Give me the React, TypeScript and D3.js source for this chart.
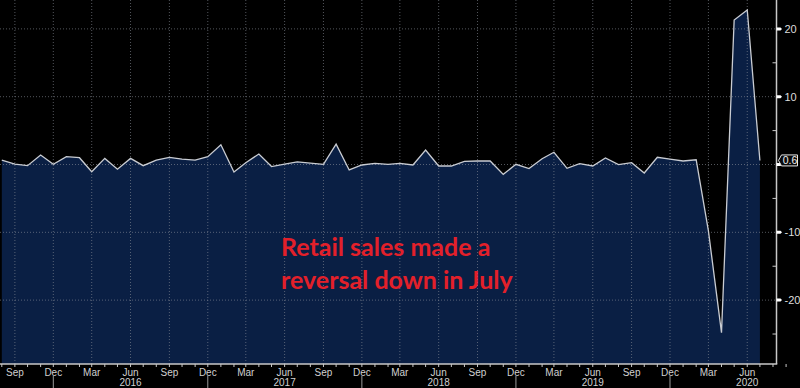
import React from "react";
import * as d3 from "d3";

// monthly % change, Aug 2015 .. Jul 2020
const startMonth = new Date(2015, 7, 1);
const values = [
  0.66, 0.07, -0.17, 1.4, 0.03,
  1.15, 1.0, -1.06, 0.9, -0.7, 0.9, -0.17, 0.66, 1.06, 0.8, 0.66, 1.15,
  2.9, -1.1, 0.27, 1.55, -0.3, 0.07, 0.4, 0.2, 0.03, 3.0, -0.8, -0.07,
  0.17, 0.03, 0.17, -0.07, 2.14, -0.22, -0.22, 0.47, 0.52, 0.52, -1.45, 0.03,
  -0.6, 0.86, 1.8, -0.56, 0.12, -0.22, 0.96, -0.02, 0.27, -1.25, 1.06, 0.8,
  0.52, 0.7, -9.8, -24.8, 21.3, 22.8, 0.6,
];
const yTicks = [20, 10, 0, -10, -20];
const yMinorTicks = [15, 5, -5, -15, -25];
const years = [2016, 2017, 2018, 2019, 2020];
const lastLabel = "0.6";
const annotation = ["Retail sales made a", "reversal down in July"];

const W = 800;
const H = 388;
const plotBottom = 364;
const axisX = 776.5;

export default function App() {
  const data = values.map((v, i) => ({ date: d3.timeMonth.offset(startMonth, i), v }));

  const x = d3
    .scaleTime()
    .domain([new Date(2015, 11, 1), new Date(2019, 11, 1)])
    .range([53.3, 670]);
  const y = d3.scaleLinear().domain([-29.42, 24.26]).range([plotBottom, 0]);

  const line = d3
    .line<{ date: Date; v: number }>()
    .x((d) => x(d.date))
    .y((d) => y(d.v));
  const area = d3
    .area<{ date: Date; v: number }>()
    .x((d) => x(d.date))
    .y0(plotBottom)
    .y1((d) => y(d.v));

  const allMonths = d3.timeMonth.range(startMonth, new Date(2020, 8, 2));
  const quarterMonths = allMonths.filter((d) => d.getMonth() % 3 === 2);
  const labelFor = (d: Date) => {
    const m = d.getMonth();
    return m === 11 ? "Dec" : m === 2 ? "Mar" : m === 5 ? "Jun" : "Sep";
  };
  const last = data[data.length - 1];

  return (
    <svg
      width={W}
      height={H}
      style={{ position: "absolute", left: 0, top: 0, background: "#000" }}
      fontFamily="Liberation Sans, Arial, sans-serif"
    >
      <rect width={W} height={H} fill="#000" />
      <path d={area(data) ?? ""} fill="#0a1f44" />

      {/* grid */}
      <g stroke="#8a8f99" strokeOpacity={0.6} strokeDasharray="1,2" strokeWidth={1}>
        {quarterMonths
          .filter((d) => x(d) < axisX - 2)
          .map((d, i) => (
            <line key={"vg" + i} x1={x(d)} x2={x(d)} y1={0} y2={plotBottom} />
          ))}
        {yTicks.map((t) => (
          <line key={"hg" + t} x1={0} x2={axisX} y1={y(t)} y2={y(t)} />
        ))}
      </g>

      <path d={line(data) ?? ""} fill="none" stroke="#c9ccd2" strokeWidth={1.3} />

      {/* right axis */}
      <line x1={axisX} x2={axisX} y1={0} y2={plotBottom} stroke="#c8c8c8" strokeWidth={1.5} />
      {yMinorTicks.map((t) => (
        <line key={"ym" + t} x1={axisX - 4} x2={axisX} y1={y(t)} y2={y(t)} stroke="#c8c8c8" />
      ))}
      {yTicks.map((t) => (
        <g key={"yt" + t}>
          <path
            d={`M${axisX},${y(t) - 1.5}L${axisX + 4},${y(t) - 1.5}L${axisX + 5.5},${y(t)}L${axisX + 4},${y(t) + 1.5}L${axisX},${y(t) + 1.5}Z`}
            fill="#fff"
          />
          {t !== 0 && (
            <text x={axisX + 8} y={y(t)} dy="0.35em" fontSize={11} fill="#ddd">
              {t < 0 ? `-${Math.abs(t)}` : t}
            </text>
          )}
        </g>
      ))}
      <g transform={`translate(0,${y(last.v)})`}>
        <path
          d={`M${axisX + 2},0L${axisX + 5},-5.5L${axisX + 21},-5.5L${axisX + 21},5.5L${axisX + 5},5.5Z`}
          fill="#0a0a0a"
          stroke="#e6e6e6"
          strokeWidth={1}
        />
        <text x={axisX + 13.5} dy="0.35em" fontSize={10.5} fill="#f0f0f0" textAnchor="middle">
          {lastLabel}
        </text>
      </g>

      {/* bottom axis */}
      <line x1={0} x2={axisX + 0.75} y1={plotBottom} y2={plotBottom} stroke="#c8c8c8" strokeWidth={1.5} />
      {allMonths.map((d, i) => (
        <line key={"xt" + i} x1={x(d)} x2={x(d)} y1={plotBottom} y2={plotBottom + 3} stroke="#c8c8c8" />
      ))}
      {quarterMonths
        .filter((d) => x(d) < 755)
        .map((d, i) => (
          <text
            key={"xl" + i}
            x={x(d)}
            y={plotBottom + 8}
            dy="0.35em"
            fontSize={10}
            fill="#d0d0d0"
            textAnchor="middle"
          >
            {labelFor(d)}
          </text>
        ))}
      {years.map((yr) => (
        <g key={"yr" + yr}>
          <text
            x={x(new Date(yr, 5, 1))}
            y={plotBottom + 18}
            dy="0.35em"
            fontSize={10}
            fill="#d0d0d0"
            textAnchor="middle"
          >
            {yr}
          </text>
          <line
            x1={x(new Date(yr - 1, 11, 1))}
            x2={x(new Date(yr - 1, 11, 1))}
            y1={plotBottom + 12}
            y2={H}
            stroke="#9a9a9a"
          />
        </g>
      ))}

      {/* annotation */}
      <g fontFamily="Lato, Open Sans, sans-serif" fontWeight={700} fontSize={25} fill="#e3202a">
        <text x={281} y={256}>{annotation[0]}</text>
        <text x={281} y={289}>{annotation[1]}</text>
      </g>
    </svg>
  );
}
